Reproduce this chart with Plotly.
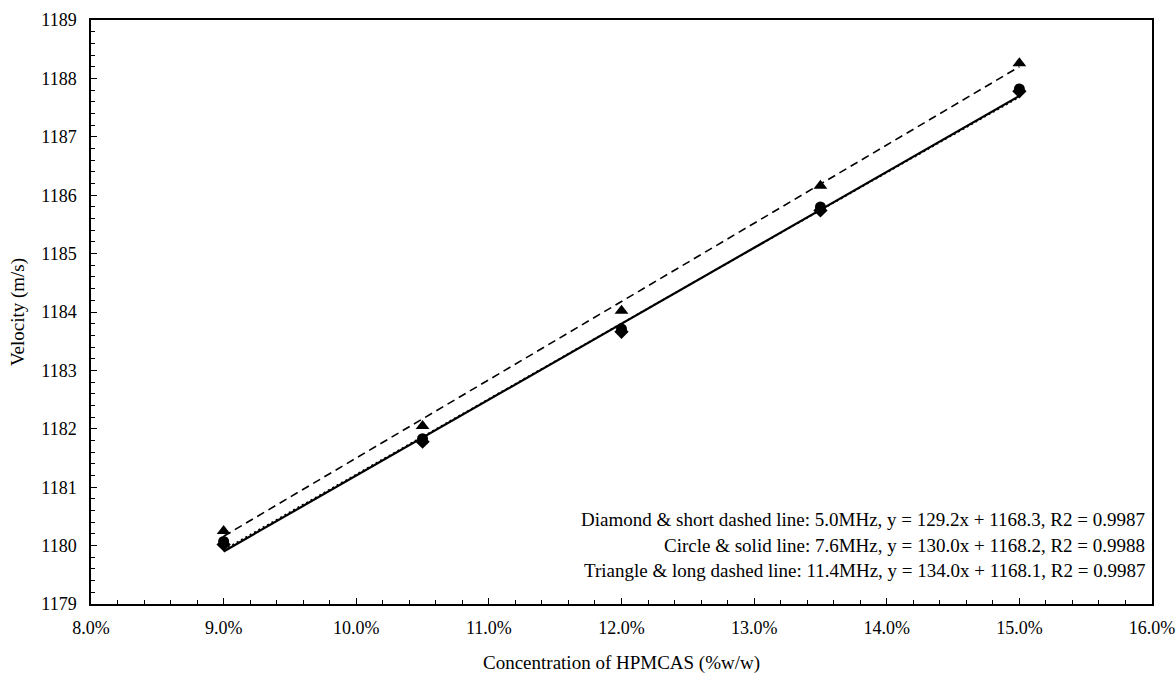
import plotly.graph_objects as go

conc = [0.09, 0.105, 0.12, 0.135, 0.15]
vel_diamond = [1180.02, 1181.78, 1183.66, 1185.74, 1187.78]
vel_circle = [1180.07, 1181.83, 1183.71, 1185.80, 1187.82]
vel_triangle = [1180.25, 1182.05, 1184.02, 1186.16, 1188.26]

slopes = [129.2, 130.0, 134.0]
intercepts = [1168.3, 1168.2, 1168.1]
fit_x = [0.09, 0.15]

ann_lines = [
    "Diamond & short dashed line: 5.0MHz, y = 129.2x + 1168.3, R2 = 0.9987",
    "Circle & solid line: 7.6MHz, y = 130.0x + 1168.2, R2 = 0.9988",
    "Triangle & long dashed line: 11.4MHz, y = 134.0x + 1168.1, R2 = 0.9987",
]
x_title = "Concentration of HPMCAS (%w/w)"
y_title = "Velocity (m/s)"

FONT = "Liberation Serif, Times New Roman, serif"

fig = go.Figure()

dashes = ["2px,3px", "solid", "8px,5px"]
widths = [1.6, 2.2, 1.6]
for s, b, d, w in zip(slopes, intercepts, dashes, widths):
    fig.add_trace(go.Scatter(
        x=fit_x, y=[s * xx + b for xx in fit_x], mode="lines",
        line=dict(color="black", width=w, dash=d), showlegend=False,
        hoverinfo="skip"))

fig.add_trace(go.Scatter(x=conc, y=vel_diamond, mode="markers",
                         marker=dict(symbol="diamond", size=11, color="black"),
                         showlegend=False))
fig.add_trace(go.Scatter(x=conc, y=vel_circle, mode="markers",
                         marker=dict(symbol="circle", size=11, color="black"),
                         showlegend=False))
fig.add_trace(go.Scatter(x=conc, y=vel_triangle, mode="markers",
                         marker=dict(symbol="triangle-up", size=12, color="black"),
                         showlegend=False))

for i, t in enumerate(ann_lines):
    fig.add_annotation(x=0.9953, xref="paper", y=0.144 - i * 0.043, yref="paper",
                       text=t, showarrow=False, xanchor="right", yanchor="middle",
                       font=dict(family=FONT, size=19, color="black"))

fig.add_annotation(x=0.5, xref="paper", y=-0.101, yref="paper", text=x_title,
                   showarrow=False, xanchor="center", yanchor="middle",
                   font=dict(family=FONT, size=19, color="black"))

axis_common = dict(showgrid=False, zeroline=False, showline=True, linecolor="black",
                   linewidth=1.5, mirror=True, ticks="inside", ticklen=6,
                   tickcolor="black", tickwidth=1, ticklabeloverflow="allow",
                   automargin=False,
                   tickfont=dict(family=FONT, size=18, color="black"))

fig.update_xaxes(range=[0.08, 0.16], dtick=0.01, tick0=0.08, tickformat=".1%",
                 ticklabelstandoff=7,
                 minor=dict(dtick=0.002, ticks="inside", ticklen=4, tickcolor="black"),
                 **axis_common)
fig.update_yaxes(range=[1179, 1189], dtick=1, tick0=1179,
                 ticklabelstandoff=9,
                 minor=dict(dtick=0.2, ticks="inside", ticklen=4, tickcolor="black"),
                 title=dict(text=y_title,
                            font=dict(family=FONT, size=19, color="black"), standoff=12),
                 **axis_common)

fig.update_layout(width=1176, height=676, plot_bgcolor="white", paper_bgcolor="white",
                  margin=dict(l=91, r=24, t=20, b=72), font=dict(family=FONT))

fig.write_html("out.html")
